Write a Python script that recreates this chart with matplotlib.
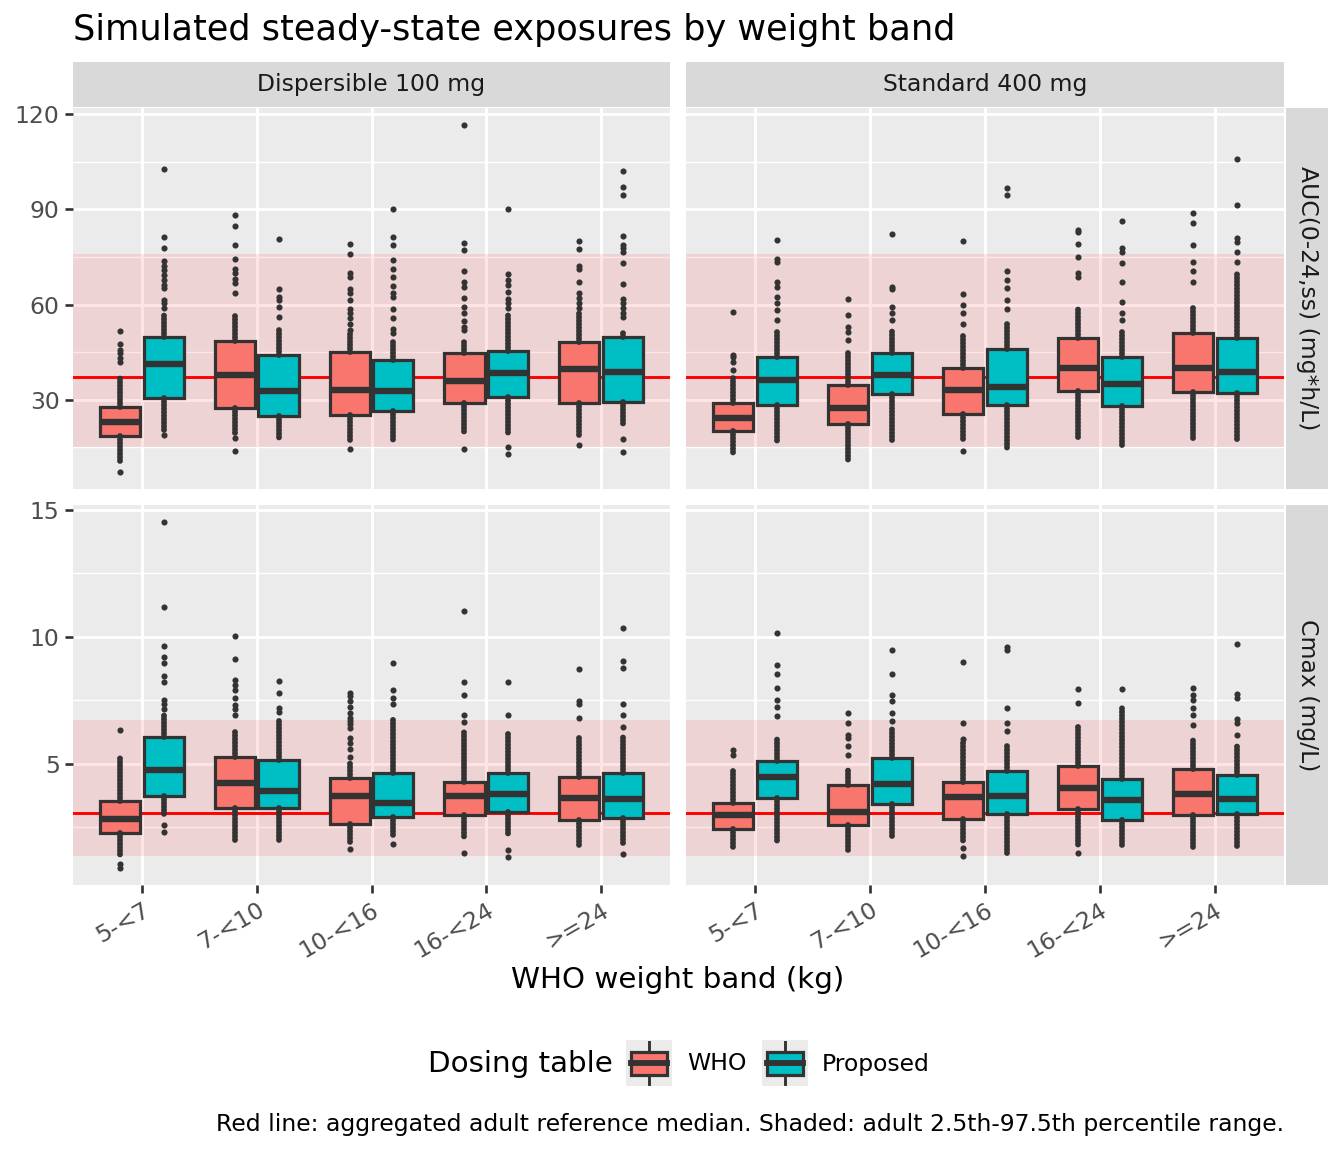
import matplotlib
matplotlib.use("Agg")
import matplotlib.pyplot as plt
from matplotlib.patches import Rectangle

# weight bands and dosing tables
bands = ['5-<7', '7-<10', '10-<16', '16-<24', '>=24']
tables = ['WHO', 'Proposed']
products = ['Dispersible 100 mg', 'Standard 400 mg']
metrics = ['AUC(0-24,ss) (mg*h/L)', 'Cmax (mg/L)']

# per band: (whisker low, q1, median, q3, whisker high)
auc_disp_who = [(10.5, 18.6, 23.0, 27.8, 37.0), (19.4, 27.3, 37.8, 48.6, 57.2),
                (17.3, 25.3, 33.0, 44.9, 50.9), (19.4, 29.1, 35.9, 44.6, 48.8),
                (18.9, 28.9, 39.6, 48.3, 57.2)]
auc_disp_prop = [(20.5, 30.4, 41.1, 49.8, 57.2), (17.3, 24.9, 32.7, 44.0, 52.0),
                 (17.3, 26.5, 32.8, 42.5, 48.8), (18.9, 30.9, 38.5, 45.4, 57.2),
                 (22.0, 29.4, 38.8, 49.8, 52.0)]
auc_std_who = [(12.6, 20.2, 24.1, 28.9, 36.7), (11.0, 22.3, 27.5, 34.6, 45.7),
               (16.7, 25.5, 33.0, 40.1, 50.9), (17.8, 32.8, 40.1, 49.3, 59.3),
               (17.3, 32.5, 39.9, 51.1, 59.3)]
auc_std_prop = [(16.8, 28.3, 36.2, 43.5, 52.0), (17.3, 31.8, 37.8, 44.6, 52.0),
                (14.7, 28.3, 34.1, 45.9, 54.6), (15.2, 28.0, 34.9, 43.5, 52.0),
                (16.7, 32.2, 38.8, 49.3, 69.8)]
cmax_disp_who = [(1.37, 2.27, 2.84, 3.52, 5.29), (1.95, 3.24, 4.23, 5.27, 6.27),
                 (1.82, 2.63, 3.72, 4.44, 5.09), (2.09, 3.00, 3.75, 4.28, 6.27),
                 (1.82, 2.80, 3.67, 4.49, 6.01)]
cmax_disp_prop = [(2.93, 3.72, 4.75, 6.05, 6.92), (1.95, 3.24, 3.94, 5.13, 6.79),
                  (2.09, 2.91, 3.46, 4.62, 6.79), (2.22, 3.10, 3.81, 4.63, 6.27),
                  (1.88, 2.87, 3.63, 4.64, 6.14)]
cmax_std_who = [(1.72, 2.44, 3.00, 3.46, 4.70), (1.50, 2.61, 3.09, 4.18, 4.83),
                (1.95, 2.82, 3.69, 4.28, 5.81), (1.82, 3.22, 4.05, 4.93, 6.53),
                (1.59, 3.00, 3.81, 4.80, 6.01)]
cmax_std_prop = [(1.88, 3.65, 4.46, 5.09, 6.01), (2.15, 3.42, 4.22, 5.22, 6.40),
                 (1.46, 3.03, 3.75, 4.70, 5.81), (1.75, 2.80, 3.59, 4.41, 7.25),
                 (1.63, 3.03, 3.61, 4.57, 5.75)]

# outlying points per band
fl_auc_disp_who = [[7.3, 42.0, 43.0, 44.6, 45.7, 47.4, 51.6],
                   [13.8, 17.8, 63.5, 66.9, 68.2, 69.8, 71.3, 74.2, 78.7, 84.9, 88.2],
                   [14.5, 52.0, 53.9, 55.7, 57.2, 58.6, 61.4, 63.5, 64.9, 68.7, 69.8, 75.9, 79.0],
                   [14.3, 52.0, 53.0, 54.8, 57.2, 59.3, 62.0, 65.6, 67.2, 70.6, 77.2, 79.3, 116.5],
                   [15.7, 58.8, 60.4, 62.0, 63.5, 67.2, 71.3, 72.3, 77.5, 79.9]]
fl_auc_disp_prop = [[19.0, 58.8, 60.4, 61.4, 65.1, 66.2, 67.7, 69.3, 70.8, 72.3, 73.6, 77.7, 81.4, 102.6],
                    [56.1, 59.3, 61.4, 62.4, 64.9, 80.8],
                    [50.9, 52.2, 55.7, 58.6, 62.5, 63.5, 65.9, 68.7, 71.3, 73.9, 78.7, 81.4, 90.1],
                    [12.8, 15.2, 58.8, 60.4, 61.6, 63.9, 66.2, 67.7, 69.5, 90.1],
                    [13.4, 17.7, 56.1, 57.2, 58.8, 60.4, 61.8, 66.6, 73.2, 76.6, 77.7, 78.7, 81.7, 94.6, 96.9, 102.1]]
fl_auc_std_who = [[39.4, 42.0, 43.5, 44.0, 57.6],
                  [48.8, 51.4, 53.0, 56.7, 61.6],
                  [13.8, 53.9, 57.2, 59.8, 63.2, 80.1],
                  [68.7, 69.8, 75.0, 79.0, 82.9, 83.5],
                  [67.2, 70.6, 73.5, 78.7, 85.8, 89.0]]
fl_auc_std_prop = [[55.1, 58.2, 60.4, 62.4, 65.6, 67.2, 73.5, 74.5, 80.5],
                   [55.1, 57.2, 59.3, 64.8, 65.5, 82.1],
                   [58.6, 61.4, 65.1, 67.7, 70.6, 94.4, 96.6],
                   [55.1, 57.2, 60.9, 67.2, 73.0, 76.5, 77.9, 86.4],
                   [73.5, 76.6, 79.8, 80.9, 91.3, 106.0]]
fl_cmax_disp_who = [[0.91, 1.04, 6.33],
                    [6.92, 7.15, 7.30, 7.60, 7.90, 8.10, 8.30, 9.14, 10.03],
                    [1.63, 5.25, 5.6, 5.8, 6.0, 6.40, 6.55, 6.68, 6.80, 7.0, 7.25, 7.45, 7.65, 7.80],
                    [1.47, 6.66, 6.92, 7.70, 8.20, 11.0],
                    [6.80, 7.34, 7.45, 8.73]]
fl_cmax_disp_prop = [[2.3, 2.6, 7.15, 7.35, 7.51, 8.20, 8.45, 8.95, 9.2, 9.64, 11.17, 14.5],
                     [7.05, 7.2, 7.80, 8.26],
                     [1.83, 7.34, 7.6, 7.92, 8.95],
                     [1.33, 1.6, 6.9, 8.2],
                     [1.46, 6.45, 6.91, 7.34, 8.75, 9.06, 10.36]]
fl_cmax_std_who = [[5.35, 5.56],
                   [5.35, 5.7, 6.0, 6.13, 6.62, 6.99],
                   [1.37, 1.67, 5.98, 6.62, 9.01],
                   [1.5, 7.38, 7.94],
                   [6.53, 6.92, 7.18, 7.5, 7.69, 7.99]]
fl_cmax_std_prop = [[6.86, 7.25, 7.5, 7.99, 8.53, 8.88, 10.16],
                    [6.7, 7.0, 7.45, 7.69, 8.53, 9.47],
                    [6.3, 6.62, 7.18, 9.47, 9.58],
                    [7.96],
                    [6.12, 6.6, 6.78, 7.58, 7.74, 9.73]]

# adult reference: median and 2.5th-97.5th percentile
ref_median = [37.1, 3.05]
ref_low = [15.1, 1.37]
ref_high = [75.9, 6.73]

colors = {'WHO': '#F8766D', 'Proposed': '#00BFC4'}
dark = '#333333'
panel_bg = '#EBEBEB'
strip_bg = '#D9D9D9'

W, H = 1344, 1152
fig = plt.figure(figsize=(7, 6), dpi=192)


def fx(px):
    return px / W


def fy(py):
    return 1 - py / H


stats = {(0, 0): (auc_disp_who, auc_disp_prop, fl_auc_disp_who, fl_auc_disp_prop),
         (0, 1): (auc_std_who, auc_std_prop, fl_auc_std_who, fl_auc_std_prop),
         (1, 0): (cmax_disp_who, cmax_disp_prop, fl_cmax_disp_who, fl_cmax_disp_prop),
         (1, 1): (cmax_std_who, cmax_std_prop, fl_cmax_std_who, fl_cmax_std_prop)}

cols_px = [(73, 670), (686, 1284)]
rows_px = [(108, 489), (505, 885)]
yticks = [[30, 60, 90, 120], [5, 10, 15]]
yminor = [[15, 45, 75, 105], [2.5, 7.5, 12.5]]

# shared y range per row, 5% expansion like ggplot
ylims = []
for r in range(2):
    vals = []
    for c in range(2):
        s_w, s_p, f_w, f_p = stats[(r, c)]
        for s in s_w + s_p:
            vals += list(s)
        for f in f_w + f_p:
            vals += f
    lo, hi = min(vals), max(vals)
    pad = 0.05 * (hi - lo)
    ylims.append((lo - pad, hi + pad))

for r in range(2):
    for c in range(2):
        x0, x1 = cols_px[c]
        y0, y1 = rows_px[r]
        ax = fig.add_axes([fx(x0), fy(y1), fx(x1 - x0), (y1 - y0) / H])
        ax.set_facecolor(panel_bg)
        for sp in ax.spines.values():
            sp.set_visible(False)
        ax.set_xlim(0.4, 5.6)
        ax.set_ylim(*ylims[r])
        ax.set_yticks(yticks[r])
        ax.set_yticks(yminor[r], minor=True)
        ax.set_xticks(range(1, 6))
        ax.grid(True, which='major', color='white', lw=1.1)
        ax.grid(True, which='minor', axis='y', color='white', lw=0.55)
        ax.set_axisbelow(True)
        ax.tick_params(which='minor', length=0)
        ax.tick_params(which='major', color=dark, length=3, width=1.0,
                       labelsize=8.8, labelcolor='#4D4D4D', pad=2)
        if c == 1:
            ax.tick_params(axis='y', labelleft=False, length=0)
        if r == 0:
            ax.tick_params(axis='x', labelbottom=False, length=0)
        else:
            ax.set_xticklabels(bands, rotation=30, ha='right', rotation_mode='anchor')

        ax.axhspan(ref_low[r], ref_high[r], color='red', alpha=0.1, lw=0, zorder=1)
        ax.axhline(ref_median[r], color='red', lw=1.1, zorder=2)

        s_w, s_p, f_w, f_p = stats[(r, c)]
        for k, (ss, ff, off) in enumerate([(s_w, f_w, -0.19), (s_p, f_p, 0.19)]):
            bx = []
            for (lo, q1, med, q3, hi), fl in zip(ss, ff):
                bx.append(dict(whislo=lo, q1=q1, med=med, q3=q3, whishi=hi, fliers=fl))
            ax.bxp(bx, positions=[i + 1 + off for i in range(5)], widths=0.35,
                   patch_artist=True, showcaps=False, manage_ticks=False,
                   boxprops=dict(facecolor=colors[tables[k]], edgecolor=dark, lw=1.2),
                   medianprops=dict(color=dark, lw=2.4, solid_capstyle='butt'),
                   whiskerprops=dict(color=dark, lw=2.2, linestyle=(0, (0.05, 0.55)),
                                     dash_capstyle='round'),
                   flierprops=dict(marker='o', markersize=2.3, markerfacecolor=dark,
                                   markeredgecolor='none'),
                   zorder=3)

# facet strips
for c in range(2):
    x0, x1 = cols_px[c]
    sax = fig.add_axes([fx(x0), fy(107), fx(x1 - x0), 45 / H])
    sax.set_facecolor(strip_bg)
    sax.set_xticks([])
    sax.set_yticks([])
    for sp in sax.spines.values():
        sp.set_visible(False)
    sax.text(0.5, 0.5, products[c], ha='center', va='center', fontsize=8.8,
             color='#1A1A1A', transform=sax.transAxes)
for r in range(2):
    y0, y1 = rows_px[r]
    sax = fig.add_axes([fx(1286), fy(y1), fx(42), (y1 - y0) / H])
    sax.set_facecolor(strip_bg)
    sax.set_xticks([])
    sax.set_yticks([])
    for sp in sax.spines.values():
        sp.set_visible(False)
    sax.text(0.5, 0.5, metrics[r], ha='center', va='center', fontsize=8.8,
             color='#1A1A1A', rotation=-90, transform=sax.transAxes)

fig.text(fx(73), fy(30), 'Simulated steady-state exposures by weight band',
         fontsize=13.2, ha='left', va='center')
fig.text(fx(678), fy(980), 'WHO weight band (kg)', fontsize=11, ha='center', va='center')

# legend
fig.text(fx(428), fy(1064), 'Dosing table', fontsize=11, ha='left', va='center')
for k, (kx, tx) in enumerate([(626, 687), (762, 822)]):
    kax = fig.add_axes([fx(kx), fy(1086), fx(46), 46 / H])
    kax.set_facecolor(panel_bg)
    kax.set_xlim(0, 1)
    kax.set_ylim(0, 1)
    kax.set_xticks([])
    kax.set_yticks([])
    for sp in kax.spines.values():
        sp.set_visible(False)
    kax.plot([0.5, 0.5], [0.05, 0.95], color=dark, lw=1.1)
    kax.add_patch(Rectangle((0.1, 0.25), 0.8, 0.5, facecolor=colors[tables[k]],
                            edgecolor=dark, lw=1.2, zorder=3))
    kax.plot([0.1, 0.9], [0.5, 0.5], color=dark, lw=2.2, zorder=4)
    fig.text(fx(tx), fy(1064), tables[k], fontsize=8.8, ha='left', va='center')

fig.text(fx(1284), fy(1124),
         'Red line: aggregated adult reference median. Shaded: adult 2.5th-97.5th percentile range.',
         fontsize=8.8, ha='right', va='center')

fig.savefig('out.png', dpi=192)
